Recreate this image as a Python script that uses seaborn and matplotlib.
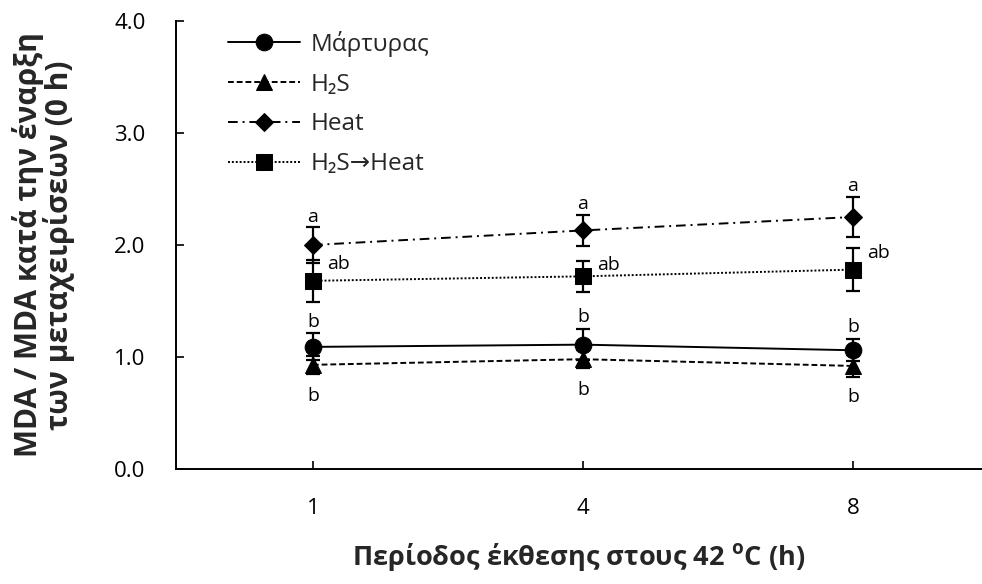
import matplotlib
matplotlib.use("Agg")
import matplotlib.pyplot as plt
import seaborn as sns
import pandas as pd
import numpy as np

# Exposure periods (h) and treatment groups
periods = ["1", "4", "8"]
groups = ["Μάρτυρας", "H₂S", "Heat", "H₂S→Heat"]

control_mean = [1.09, 1.11, 1.06]
control_err = [0.12, 0.14, 0.10]
h2s_mean = [0.93, 0.98, 0.92]
h2s_err = [0.08, 0.08, 0.10]
heat_mean = [2.00, 2.13, 2.25]
heat_err = [0.16, 0.14, 0.18]
h2s_heat_mean = [1.68, 1.72, 1.78]
h2s_heat_err = [0.19, 0.14, 0.19]

# Significance letters
control_letters = ["b", "b", "b"]
h2s_letters = ["b", "b", "b"]
heat_letters = ["a", "a", "a"]
h2s_heat_letters = ["ab", "ab", "ab"]

means = [control_mean, h2s_mean, heat_mean, h2s_heat_mean]
errs = [control_err, h2s_err, heat_err, h2s_heat_err]

sns.set_theme(style="white")
plt.rcParams["font.family"] = ["Open Sans", "DejaVu Sans"]
plt.rcParams["mathtext.fontset"] = "custom"
plt.rcParams["mathtext.rm"] = "Open Sans:bold"
plt.rcParams["mathtext.bf"] = "Open Sans:bold"

rows = []
for g, m, e in zip(groups, means, errs):
    for i, (p, v, s) in enumerate(zip(periods, m, e)):
        rows.append({"pos": i, "period": p, "group": g, "mda": v, "err": s})
df = pd.DataFrame(rows)

fig = plt.figure(figsize=(9.82, 5.84), dpi=100)
ax = fig.add_axes([0.1792, 0.197, 0.8208, 0.767])

styles = {
    "Μάρτυρας": dict(marker="o", dashes=None, ms=12),
    "H₂S": dict(marker="^", dashes=(3.0, 1.5), ms=11),
    "Heat": dict(marker="D", dashes=(5.0, 2.5, 1.0, 2.5), ms=9),
    "H₂S→Heat": dict(marker="s", dashes=(1.0, 1.0), ms=11),
}

for g in groups:
    sub = df[df["group"] == g]
    st = styles[g]
    ax.errorbar(sub["pos"], sub["mda"], yerr=sub["err"], fmt="none",
                ecolor="black", elinewidth=1.6, capsize=5, capthick=1.6, zorder=2)
    sns.lineplot(data=sub, x="pos", y="mda", ax=ax, color="black",
                 linewidth=1.4, marker=st["marker"], markersize=st["ms"],
                 markeredgecolor="black", markerfacecolor="black",
                 label=g, zorder=3, errorbar=None)
    ln = ax.get_lines()[-1]
    if st["dashes"] is not None:
        ln.set_dashes(st["dashes"])

# Letters
fs_letter = 14
txt = dict(fontsize=fs_letter, color="black", ha="center")
for i in range(3):
    ax.annotate(heat_letters[i], (i, heat_mean[i] + heat_err[i]), xytext=(0, 1),
                textcoords="offset points", va="bottom", **txt)
    ax.annotate(h2s_heat_letters[i], (i, h2s_heat_mean[i] + h2s_heat_err[i]),
                xytext=(10, -3), textcoords="offset points", va="center",
                fontsize=fs_letter, color="black", ha="left")
    ax.annotate(control_letters[i], (i, control_mean[i] + control_err[i]),
                xytext=(0, 2), textcoords="offset points", va="bottom", **txt)
    ax.annotate(h2s_letters[i], (i, h2s_mean[i]), xytext=(0, -16),
                textcoords="offset points", va="top", **txt)

ax.set_xlim(-0.507, 2.478)
ax.set_ylim(0, 4.0)
ax.set_xticks(range(3))
ax.set_xticklabels(periods)
ax.set_yticks(np.arange(0, 4.01, 1.0))
ax.set_yticklabels([f"{v:.1f}" for v in np.arange(0, 4.01, 1.0)])
ax.tick_params(axis="both", direction="in", length=6, width=1.2, labelsize=16,
               colors="black", left=True, bottom=True)
ax.tick_params(axis="x", pad=21)
ax.tick_params(axis="y", pad=22)

for s in ["top", "right"]:
    ax.spines[s].set_visible(False)
for s in ["left", "bottom"]:
    ax.spines[s].set_color("black")
    ax.spines[s].set_linewidth(1.4)

ax.set_xlabel("Περίοδος έκθεσης στους 42 $^{\\mathrm{o}}$C (h)", fontsize=19.5,
              fontweight="bold", labelpad=16)
ax.set_ylabel("MDA / MDA κατά την έναρξη\nτων μεταχειρίσεων (0 h)", fontsize=21.5,
              fontweight="bold", labelpad=28, linespacing=0.98)

leg = ax.legend(loc="upper left", bbox_to_anchor=(0.0375, 1.027), frameon=False,
                fontsize=17.5, handlelength=2.95, handletextpad=0.45,
                labelspacing=0.65)

fig.savefig("out.png", dpi=100)
